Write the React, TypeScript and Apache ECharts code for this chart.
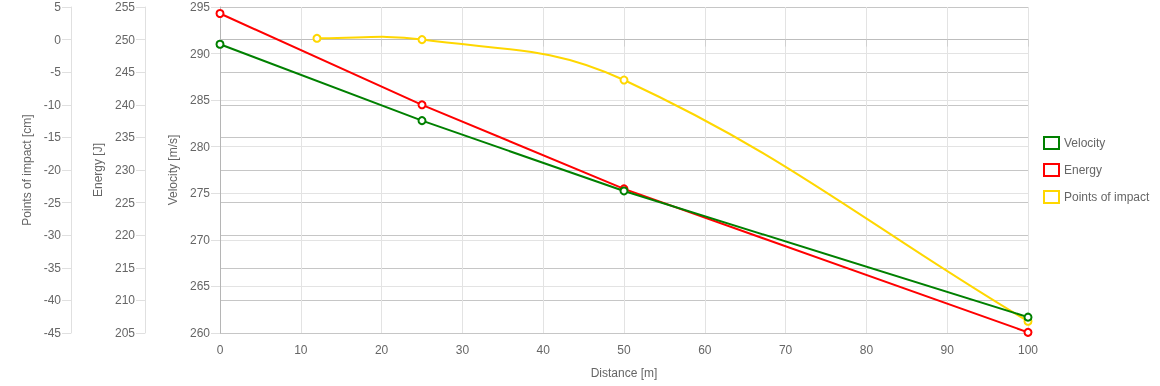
import React, { useEffect, useRef } from "react";
import * as echarts from "echarts";

const velocityX = [0, 25, 50, 100];
const velocity = [291, 282.8, 275.25, 261.7];
const energyX = [0, 25, 50, 100];
const energy = [254, 240, 227.1, 205.1];
const impactX = [12, 25, 50, 100];
const impact = [0.2, 0, -6.2, -43.2];

const seriesNames = ["Velocity", "Energy", "Points of impact"];
const colors = ["#008000", "#ff0000", "#ffd700"];
const TENSION = 0.4;

const FONT = "'Liberation Sans', Arial, sans-serif";
const TXT = "#666";

const pairs = (xs: number[], ys: number[]) => xs.map((x, i) => [x, ys[i]]);

// Chart.js-style spline control points computed in pixel space
function controlPoints(pts: number[][], t: number) {
  return pts.map((cur, i) => {
    const prev = i > 0 ? pts[i - 1] : cur;
    const next = i < pts.length - 1 ? pts[i + 1] : cur;
    const d01 = Math.hypot(cur[0] - prev[0], cur[1] - prev[1]);
    const d12 = Math.hypot(next[0] - cur[0], next[1] - cur[1]);
    let s01 = d01 / (d01 + d12);
    let s12 = d12 / (d01 + d12);
    if (!isFinite(s01)) s01 = 0;
    if (!isFinite(s12)) s12 = 0;
    const fa = t * s01;
    const fb = t * s12;
    return {
      prev: [cur[0] - fa * (next[0] - prev[0]), cur[1] - fa * (next[1] - prev[1])],
      next: [cur[0] + fb * (next[0] - prev[0]), cur[1] + fb * (next[1] - prev[1])],
    };
  });
}

export default function App() {
  const ref = useRef<HTMLDivElement>(null);
  useEffect(() => {
    if (!ref.current) return;
    const chart = echarts.init(ref.current, undefined, { renderer: "svg" });
    const yBase = (over: any) => ({
      type: "value",
      position: "left",
      nameLocation: "middle",
      nameTextStyle: { color: TXT, fontSize: 12, fontFamily: FONT },
      axisLabel: { color: TXT, fontSize: 12, fontFamily: FONT, margin: 10 },
      axisTick: { show: true, length: 9, lineStyle: { color: "#e0e0e0" } },
      axisLine: { show: true, lineStyle: { color: "#e0e0e0" } },
      ...over,
    });
    chart.setOption({
      animation: false,
      textStyle: { fontFamily: FONT },
      grid: { left: 220, right: 132, top: 7, bottom: 53 },
      legend: {
        orient: "vertical",
        left: 1038,
        top: 131,
        itemWidth: 15,
        itemHeight: 12,
        itemGap: 13,
        icon: "rect",
        textStyle: { color: TXT, fontSize: 12, fontFamily: FONT },
        data: seriesNames.map((n, i) => ({
          name: n,
          icon: "rect",
          itemStyle: { color: "rgba(255,255,255,0)", borderColor: colors[i], borderWidth: 2 },
        })),
      },
      xAxis: {
        type: "value",
        min: 0,
        max: 100,
        interval: 10,
        name: "Distance [m]",
        nameLocation: "middle",
        nameGap: 34,
        nameTextStyle: { color: TXT, fontSize: 12, fontFamily: FONT },
        axisLabel: { color: TXT, fontSize: 12, fontFamily: FONT, margin: 11 },
        axisTick: { show: true, length: 7, lineStyle: { color: "#d0d0d0" } },
        axisLine: { show: true, lineStyle: { color: "#bdbdbd" } },
        splitLine: { show: true, lineStyle: { color: "#e3e3e3" } },
      },
      yAxis: [
        yBase({
          name: "Velocity [m/s]",
          nameGap: 41,
          min: 260,
          max: 295,
          interval: 5,
          offset: 0,
          axisLine: { show: true, lineStyle: { color: "#b5b5b5" } },
          splitLine: { show: true, lineStyle: { color: "#e3e3e3" } },
        }),
        yBase({
          name: "Energy [J]",
          nameGap: 39,
          min: 205,
          max: 255,
          interval: 5,
          offset: 75,
          splitLine: { show: true, lineStyle: { color: "#c6c6c6" } },
        }),
        yBase({
          name: "Points of impact [cm]",
          nameGap: 36,
          min: -45,
          max: 5,
          interval: 5,
          offset: 149,
          splitLine: { show: false },
        }),
      ],
      series: [
        {
          name: seriesNames[0],
          type: "line",
          yAxisIndex: 0,
          data: pairs(velocityX, velocity),
          symbol: "circle",
          symbolSize: 7,
          z: 5,
          lineStyle: { color: colors[0], width: 2 },
          itemStyle: { color: "#fff", borderColor: colors[0], borderWidth: 2 },
        },
        {
          name: seriesNames[1],
          type: "line",
          yAxisIndex: 1,
          data: pairs(energyX, energy),
          symbol: "circle",
          symbolSize: 7,
          z: 4,
          lineStyle: { color: colors[1], width: 2 },
          itemStyle: { color: "#fff", borderColor: colors[1], borderWidth: 2 },
        },
        {
          name: seriesNames[2],
          type: "custom",
          yAxisIndex: 2,
          data: pairs(impactX, impact),
          encode: { x: 0, y: 1 },
          z: 3,
          itemStyle: { color: colors[2] },
          renderItem: (params: any, api: any) => {
            const i = params.dataIndex;
            if (i >= impactX.length - 1) return { type: "group", children: [] };
            const pts = impactX.map((x, k) => api.coord([x, impact[k]]));
            const cps = controlPoints(pts, TENSION);
            return {
              type: "bezierCurve",
              shape: {
                x1: pts[i][0],
                y1: pts[i][1],
                x2: pts[i + 1][0],
                y2: pts[i + 1][1],
                cpx1: cps[i].next[0],
                cpy1: cps[i].next[1],
                cpx2: cps[i + 1].prev[0],
                cpy2: cps[i + 1].prev[1],
              },
              style: { stroke: colors[2], lineWidth: 2, fill: "none" },
            };
          },
        },
        {
          name: seriesNames[2],
          type: "line",
          yAxisIndex: 2,
          data: pairs(impactX, impact),
          symbol: "circle",
          symbolSize: 7,
          z: 3.5,
          lineStyle: { color: colors[2], width: 0, opacity: 0 },
          itemStyle: { color: "#fff", borderColor: colors[2], borderWidth: 2 },
        },
      ],
    });
    return () => chart.dispose();
  }, []);
  return (
    <div
      ref={ref}
      style={{ position: "fixed", left: 0, top: 0, width: 1160, height: 386 }}
    />
  );
}
